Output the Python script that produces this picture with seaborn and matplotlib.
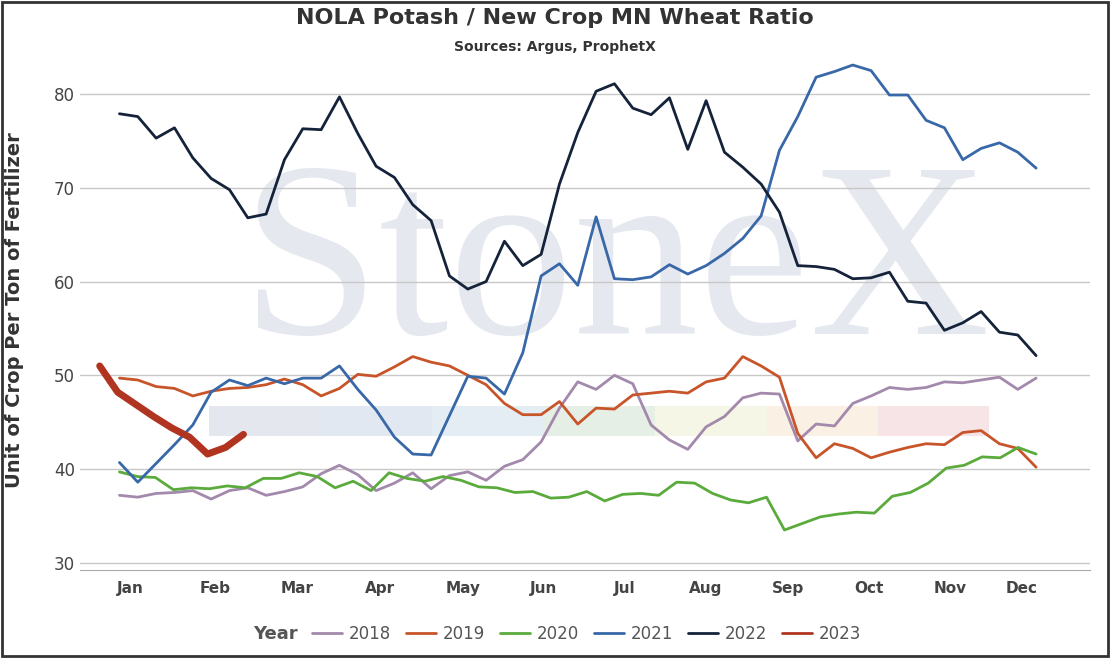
import numpy as np
import pandas as pd
import seaborn as sns
import matplotlib.pyplot as plt
from matplotlib.patches import Rectangle

sns.set_style('white')
plt.rcParams['font.family'] = ['DejaVu Sans']

y2018 = [37.2,37.0,37.4,37.5,37.7,36.8,37.7,38.0,37.2,37.6,38.1,39.5,40.4,39.4,37.7,38.5,39.6,37.9,39.3,39.7,38.8,40.3,41.0,42.9,46.5,49.3,48.5,50.0,49.1,44.7,43.1,42.1,44.5,45.6,47.6,48.1,48.0,43.0,44.8,44.6,47.0,47.8,48.7,48.5,48.7,49.3,49.2,49.5,49.8,48.5,49.7]
y2019 = [49.7,49.5,48.8,48.6,47.8,48.3,48.6,48.7,49.0,49.6,49.0,47.8,48.6,50.1,49.9,50.9,52.0,51.4,51.0,50.0,49.0,47.0,45.8,45.8,47.2,44.8,46.5,46.4,47.9,48.1,48.3,48.1,49.3,49.7,52.0,51.0,49.8,43.8,41.2,42.7,42.2,41.2,41.8,42.3,42.7,42.6,43.9,44.1,42.7,42.2,40.2]
y2020 = [39.7,39.2,39.1,37.8,38.0,37.9,38.2,38.0,39.0,39.0,39.6,39.2,38.0,38.7,37.7,39.6,39.0,38.7,39.2,38.8,38.1,38.0,37.5,37.6,36.9,37.0,37.6,36.6,37.3,37.4,37.2,38.6,38.5,37.4,36.7,36.4,37.0,33.5,34.2,34.9,35.2,35.4,35.3,37.1,37.5,38.5,40.1,40.4,41.3,41.2,42.3,41.6]
y2021 = [40.7,38.6,40.6,42.6,44.7,48.2,49.5,48.9,49.7,49.1,49.7,49.7,51.0,48.5,46.3,43.4,41.6,41.5,45.7,49.9,49.7,48.0,52.4,60.6,61.9,59.6,66.9,60.3,60.2,60.5,61.8,60.8,61.7,63.0,64.6,67.0,74.0,77.6,81.8,82.4,83.1,82.5,79.9,79.9,77.2,76.4,73.0,74.2,74.8,73.8,72.1]
y2022 = [77.9,77.6,75.3,76.4,73.2,71.0,69.8,66.8,67.2,73.0,76.3,76.2,79.7,75.8,72.3,71.1,68.2,66.5,60.6,59.2,60.0,64.3,61.7,62.9,70.4,75.9,80.3,81.1,78.5,77.8,79.6,74.1,79.3,73.8,72.2,70.4,67.4,61.7,61.6,61.3,60.3,60.4,61.0,57.9,57.7,54.8,55.6,56.8,54.6,54.3,52.1]
y2023 = [51.0,48.2,46.9,45.6,44.4,43.4,41.6,42.3,43.7]

years = ['2018','2019','2020','2021','2022','2023']
colors = ['#a389ab','#c8552a','#5aab3c','#3868a8','#15233a','#b0341f']
month_labels = ['Jan','Feb','Mar','Apr','May','Jun','Jul','Aug','Sep','Oct','Nov','Dec']
month_pos = [0.6,5.3,9.9,14.5,19.1,23.6,28.1,32.6,37.2,41.7,46.2,50.2]

series = {'2018': y2018, '2019': y2019, '2020': y2020, '2021': y2021, '2022': y2022, '2023': y2023}
rows = []
for yr, vals in series.items():
    for i, v in enumerate(vals):
        if yr == '2023':
            wk = -1.1 + i
        else:
            wk = i * 51 / (len(vals) - 1)
        rows.append({'Year': yr, 'week': wk, 'value': v})
df = pd.DataFrame(rows)

fig = plt.figure(figsize=(11.1, 6.58), dpi=100)
ax = fig.add_axes([0.072, 0.134, 0.91, 0.79])

# watermark
ax.text(0.53, 0.57, 'StoneX', transform=ax.transAxes, fontsize=180, family='Liberation Serif',
        color='#dfe3ea', ha='center', va='center', zorder=0, alpha=0.8)
band_cols = ['#e4e8ee','#e2e8f2','#e4edf4','#e6efe6','#f6f6e6','#fbf0e4','#f7e4e6']
for i, c in enumerate(band_cols):
    ax.add_patch(Rectangle((5.0 + i*6.2, 43.5), 6.2, 3.2, color=c, zorder=0, lw=0))

for yr, c in zip(years, colors):
    sub = df[df.Year == yr]
    sns.lineplot(data=sub, x='week', y='value', ax=ax, color=c,
                 lw=5 if yr == '2023' else 2, label=yr, zorder=3)

ax.set_xlim(-2.2, 54)
ax.set_ylim(29.25, 84.7)
ax.set_yticks([30, 40, 50, 60, 70, 80])
ax.set_xticks(month_pos)
ax.set_xticklabels(month_labels, fontsize=11, fontweight='bold', color='#444444')
ax.tick_params(axis='y', labelsize=12, colors='#444444', length=0)
ax.tick_params(axis='x', length=0, pad=8)
ax.grid(axis='y', color='#c8c8c8', lw=1)
ax.set_xlabel('')
ax.set_ylabel('Unit of Crop Per Ton of Fertilizer', fontsize=14, fontweight='bold', color='#333333')
ax.yaxis.set_label_coords(-0.055, 0.5)
for s in ['top', 'right', 'left']:
    ax.spines[s].set_visible(False)
ax.spines['bottom'].set_color('#aaaaaa')

fig.text(0.5, 0.972, 'NOLA Potash / New Crop MN Wheat Ratio', ha='center', va='center',
         fontsize=16, fontweight='bold', color='#333333')
fig.text(0.5, 0.928, 'Sources: Argus, ProphetX', ha='center', va='center',
         fontsize=10, fontweight='bold', color='#333333')

h, l = ax.get_legend_handles_labels()
ax.legend_.remove()
leg = fig.legend(h, l, loc='center left', bbox_to_anchor=(0.268, 0.037), ncol=6, frameon=False,
                 fontsize=12, handlelength=1.8, columnspacing=0.9, handletextpad=0.4)
for ln in leg.get_lines():
    ln.set_linewidth(2)
for t in leg.get_texts():
    t.set_color('#555555')
fig.text(0.268, 0.037, 'Year', ha='right', va='center', fontsize=13, fontweight='bold', color='#555555')
fig.add_artist(Rectangle((0.002, 0.003), 0.996, 0.994, transform=fig.transFigure,
                         fill=False, ec='#333333', lw=2))

fig.savefig('out.png', dpi=100)
